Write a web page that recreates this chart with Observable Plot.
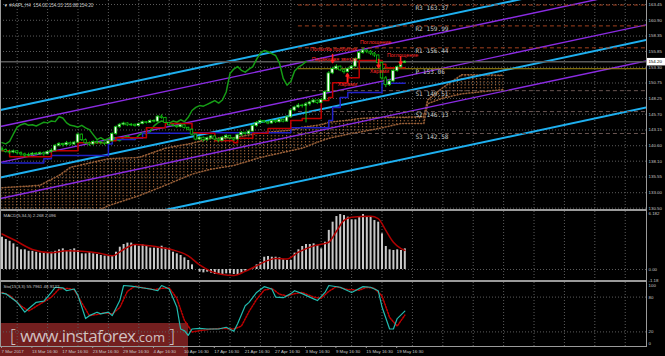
<!DOCTYPE html>
<html><head><meta charset="utf-8">
<script src="https://cdn.jsdelivr.net/npm/d3@7"></script>
<script src="https://cdn.jsdelivr.net/npm/@observablehq/plot@0.6"></script>
<style>
html,body{margin:0;padding:0;background:#000;}
#wrap{position:relative;width:665px;height:356px;overflow:hidden;background:#000;font-family:"Liberation Sans",Arial,sans-serif;}
.ln{position:absolute;background:#9a9a9a;}
#wm{position:absolute;left:0;top:323px;width:188px;height:33px;background:rgba(170,45,45,0.68);}
#wmt{position:absolute;left:10px;top:325px;line-height:20px;font-size:17px;color:rgba(225,225,225,0.85);font-family:"Open Sans",sans-serif;white-space:nowrap;}
</style></head>
<body><div id="wrap">
<div id="wm"></div>
<div id="wmt"><span style="font-size:18px;font-weight:300">[</span> <span style="letter-spacing:-0.6px">www.instaforex</span><span style="font-size:13px">.com</span> <span style="font-size:18px;font-weight:300">]</span></div>
</div>
<script>
// ---------- data ----------
const opens = [140.1,139.9,139.6,139.5,139.7,139.4,139.2,139.0,139.1,139.3,
139.2,139.4,139.2,139.6,139.8,140.6,140.9,140.7,141.0,140.8,
141.1,142.4,141.5,141.0,140.8,141.2,141.0,141.1,140.9,141.3,
142.5,143.6,144.0,144.2,143.9,144.0,143.8,144.1,144.4,144.3,
144.6,144.5,145.3,145.1,144.3,143.9,143.8,143.6,143.9,143.5,
143.2,142.4,141.6,141.9,141.5,141.8,142.1,141.6,141.4,141.9,
142.2,141.8,141.6,142.3,142.7,142.5,142.9,143.8,144.3,144.6,
144.4,144.2,144.6,144.4,144.8,144.5,145.2,146.3,146.8,147.1,
147.0,147.3,147.6,147.9,147.5,148.0,149.3,152.3,153.0,153.4,
152.8,152.5,153.0,153.4,154.6,155.6,156.0,155.8,155.5,155.2,
154.0,151.5,150.4,151.0,152.7,153.3,154.00];
const highs = [140.4,140.1,139.9,139.9,139.8,139.6,139.4,139.4,139.5,139.5,
139.6,139.6,139.8,140.1,140.8,141.1,141.0,141.3,141.2,141.3,
142.6,142.5,141.7,141.2,141.4,141.4,141.3,141.2,141.5,142.7,
143.8,144.2,144.4,144.3,144.2,144.1,144.3,144.6,144.5,144.8,
144.8,145.5,145.6,145.2,144.4,144.1,143.9,144.1,144.0,143.6,
143.3,142.5,142.1,142.0,142.0,142.3,142.2,141.8,142.1,142.4,
142.3,141.9,142.5,142.9,142.8,143.1,144.0,144.5,144.8,144.7,
144.5,144.8,144.7,145.0,144.9,145.4,146.5,147.0,147.4,147.3,
147.6,147.8,148.1,148.0,148.2,149.5,152.6,153.3,153.7,153.5,
153.0,153.2,153.6,154.8,155.9,156.4,156.2,156.0,155.7,155.3,
154.2,151.8,151.3,152.9,153.5,153.9,154.33];
const lows = [139.6,139.4,139.2,139.3,139.1,138.9,138.7,138.8,138.9,139.0,
139.0,138.9,139.1,139.4,139.7,140.4,140.4,140.5,140.6,140.6,
141.0,141.3,140.8,140.5,140.6,140.8,140.7,140.6,140.8,141.2,
142.3,143.4,143.8,143.7,143.7,143.6,143.7,144.0,144.1,144.2,
144.3,144.4,144.9,144.2,143.7,143.6,143.4,143.5,143.3,143.0,
142.2,141.4,141.4,141.2,141.3,141.6,141.4,141.1,141.3,141.7,
141.6,141.3,141.5,142.1,142.3,142.4,142.8,143.6,144.1,144.2,
144.0,144.1,144.2,144.3,144.3,144.4,145.1,146.1,146.6,146.7,
144.3,147.0,147.4,147.3,147.4,147.9,149.2,152.1,152.8,152.6,
152.2,152.4,152.9,153.3,154.5,155.4,155.5,155.2,154.9,153.8,
151.2,150.0,150.2,150.9,152.5,153.1,153.88];
const closes = [139.9,139.6,139.5,139.7,139.4,139.2,139.0,139.1,139.3,139.2,
139.4,139.2,139.6,139.8,140.6,140.9,140.7,141.0,140.8,141.1,
142.4,141.5,141.0,140.8,141.2,141.0,141.1,140.9,141.3,142.5,
143.6,144.0,144.2,143.9,144.0,143.8,144.1,144.4,144.3,144.6,
144.5,145.3,145.1,144.3,143.9,143.8,143.6,143.9,143.5,143.2,
142.4,141.6,141.9,141.5,141.8,142.1,141.6,141.4,141.9,142.2,
141.8,141.6,142.3,142.7,142.5,142.9,143.8,144.3,144.6,144.4,
144.2,144.6,144.4,144.8,144.5,145.2,146.3,146.8,147.1,147.0,
147.3,147.6,147.9,147.5,148.0,149.3,152.3,153.0,153.4,152.8,
152.5,153.0,153.4,154.6,155.6,156.0,155.8,155.5,155.2,154.0,
151.5,150.4,151.0,152.7,153.3,153.7,154.20];

const tenkanIdx = [0,2,13,20,28,30,38,43,50,52,56,61,62,66,70,76,79,84,86,87,91,94,100,101,106];
const tenkanVal = [139.8,138.8,139.8,141.1,141.4,141.9,143.5,144.2,142.7,142.6,141.4,141.1,141.8,142.6,143.4,144.7,145.0,147.9,148.4,150.8,151.6,154.4,153.8,153.2,153.2];
const kijunIdx = [0,11,13,28,29,35,37,51,76,86,87,89,91,100,106];
const kijunVal = [137.8,138.5,139.0,140.9,141.6,141.8,142.6,142.7,143.5,144.7,146.8,148.4,149.2,150.7,150.7];

const cloudIdx = [0,10,15,18,28,36,43,50,55,61,68,76,79,84,86,92,94,100,105,111,112,116,121,132];
const cloudTop = [133.8,134.2,135.8,137.1,138.5,138.7,140.2,141.0,141.8,141.9,142.7,143.1,143.6,144.0,144.4,144.8,145.0,145.2,145.2,145.3,148.0,150.0,152.1,152.0];
const cloudBot = [128,128,128,128,130.9,132.5,134.2,136.0,136.8,137.4,138.7,139.8,140.2,141.4,141.8,142.6,142.8,143.5,144.2,144.2,147.4,148.3,149.0,149.7];

const cyanStart = [146.38,135.46,124.53];
const cyanEnd   = [168.64,157.72,146.80];
const violetStart = [143.71,137.90,132.07];
const violetEnd   = [165.97,160.17,154.34];

const pivotNames = ["R3","R2","R1","P","S1","S2","S3"];
const pivotVals  = [163.37,159.99,156.44,153.06,149.51,146.13,142.58];
const pivotStartBar = 78;
const pivotLabelBar = 108.8;

const priceTicks = [130.50,133.00,135.55,138.10,140.60,143.15,145.70,148.25,150.75,153.30,155.85,158.35,160.90,163.45];
const priceNow = 154.20;

const annoText  = ["Поглощение","Попытка пробития","Падающая звезда","Поглощение","Харами","Харами"];
const annoIdx   = [98.3,87.2,87.5,105.4,99.3,90.9];
const annoPrice = [157.35,156.28,154.55,155.2,152.66,150.62];
const arrowIdx   = [87.0,90.9,99.1,104.9];
const arrowPrice = [154.7,151.6,153.9,154.4];
const arrowDir   = [-1,1,-1,-1];

const macdHist = [3.55,3.3,3.1,2.82,2.45,2.16,2.16,2.0,2.0,1.9,
1.8,1.85,1.85,1.9,2.0,2.16,2.27,2.0,2.16,2.27,
2.09,1.72,1.72,1.85,1.72,1.65,1.54,1.47,1.47,1.43,
1.9,2.45,2.75,2.9,2.9,2.64,2.56,2.7,2.56,2.35,
2.35,2.35,2.56,2.35,2.27,1.9,1.72,1.54,1.28,0.99,
0.51,0.0,-0.29,-0.37,-0.29,-0.4,-0.55,-0.55,-0.55,-0.48,
-0.48,-0.55,-0.66,-0.4,-0.18,-0.11,0.07,0.51,0.8,1.35,
1.43,1.35,1.35,1.28,1.06,0.99,0.99,1.8,2.16,2.53,
2.75,2.75,2.82,2.64,2.27,3.0,4.3,5.2,5.82,6.04,
5.93,5.75,5.46,5.46,5.82,6.04,5.82,5.75,5.38,5.2,
3.92,2.53,2.16,2.09,2.16,2.09,2.268];
const macdSigIdx = [0,3,8,13,17,21,26,29,32,35,39,42,45,49,52,55,58,61,64,67,70,72,75,78,82,86,88,90,92,97,99,101,103,105,106];
const macdSigVal = [3.9,3.3,2.2,1.85,2.05,2.0,1.75,1.5,2.2,2.75,2.6,2.4,2.15,1.5,0.5,-0.2,-0.55,-0.65,-0.2,0.4,1.0,1.2,1.15,1.9,2.6,3.0,4.2,5.4,5.75,5.85,5.6,4.3,3.0,2.3,2.096];
const macdTicks = [6.182,0,-1.18];
const macdTickText = ["6.182","0.00","-1.18"];

const stochIdx = [0,1,4,6,7,9,11,13,14,16,17,19,20,22,23,25,26,28,29,31,32,34,36,39,41,42,44,46,47,48,49,50,52,54,57,59,61,62,64,65,67,69,71,72,74,76,77,79,82,83,85,86,89,92,95,97,99,100,102,103,104,106];
const stochMain = [86.7,85.7,71,54,60,71,73,88,97,96,91,94,83,43,48,54,51,54,48,74,100,99,97,94,91,100,94,63,25,22,14,25,26,25,25,28,21,34,65,71,88,98,94,80,79,86,91,86,77,74,88,100,97,88,98,97,91,63,25,25,43,55.8];
const stochSigIdx = [0,2,5,7,9,11,13,15,17,19,21,23,25,27,29,31,33,35,37,40,42,44,46,48,50,52,55,58,61,63,65,67,69,71,73,75,77,79,82,84,86,88,91,94,96,98,100,102,104,106];
const stochSig = [88,83,65,56,64,72,80,94,95,93,70,48,50,53,51,62,90,99,96,93,95,96,78,40,20,22,25,26,25,30,55,76,92,95,85,82,86,88,80,78,90,98,93,92,97,95,82,45,30,48.9];
const stochTicks = [100,80,20,0];

const xLabels = ["7 Mar 2017","13 Mar 16:30","17 Mar 16:30","23 Mar 16:30","29 Mar 16:30","4 Apr 16:30","10 Apr 16:30","17 Apr 16:30","21 Apr 16:30","27 Apr 16:30","3 May 16:30","9 May 16:30","15 May 16:30","19 May 16:30"];

const titleText = "▼ #AAPL,H4  154.00 154.33 153.88 154.20";
const macdTitle = "MACD(5,34,5) 2.268 2.096";
const stochTitle = "Sto(15,3,3) 55.7961 48.9122";

// ---------- layout constants ----------
const W = 665, MR = 19;
const xDomain = [-0.395, 169.6];
const gridIdx = d3.range(4, 170, 8);
const labelIdx = d3.range(0, 8 * xLabels.length, 8);
const gridColor = "#5c5c5c";
const txt = "#c8c8c8";
const FONT = "Liberation Sans, Arial, sans-serif";
const FS = 4.4;

const wrap = document.getElementById("wrap");
function place(svg, top) {
  svg.style.position = "absolute"; svg.style.left = "0px"; svg.style.top = top + "px";
  wrap.appendChild(svg);
}
const baseStyle = {background: "transparent", color: txt, fontFamily: FONT, fontSize: FS + "px", overflow: "visible"};

// ---------- main panel ----------
const candles = closes.map((c, i) => ({i, o: opens[i], h: highs[i], l: lows[i], c}));
const cloud = cloudIdx.map((i, k) => ({i, top: cloudTop[k], bot: cloudBot[k]}));
const cyan = cyanStart.map((s, k) => ({s, e: cyanEnd[k]}));
const violet = violetStart.map((s, k) => ({s, e: violetEnd[k]}));
const pivots = pivotVals.map((v, k) => ({name: pivotNames[k], v}));
const tenkan = tenkanIdx.map((i, k) => ({i, v: tenkanVal[k]}));
const kijun = kijunIdx.map((i, k) => ({i, v: kijunVal[k]}));
const chikou = candles.filter(d => d.i >= 26);
const annos = annoText.map((t, k) => ({t, i: annoIdx[k], p: annoPrice[k]}));
const arrows = arrowDir.map((dir, k) => ({dir, i: arrowIdx[k], p: arrowPrice[k]}));

const mainPlot = Plot.plot({
  width: W, height: 210, marginLeft: 0, marginRight: MR, marginTop: 0, marginBottom: 0,
  style: baseStyle,
  x: {domain: xDomain, axis: null},
  y: {domain: [130.12, 164.10]},
  marks: [
    Plot.ruleY(priceTicks, {stroke: gridColor, strokeDasharray: "1,2"}),
    Plot.ruleX(gridIdx, {stroke: gridColor, strokeDasharray: "1,2"}),
    Plot.areaY(cloud, {x: "i", y1: "bot", y2: "top", fill: "url(#hatch)", clip: true}),
    Plot.line(cloud, {x: "i", y: "top", stroke: "#9a6038", strokeDasharray: "1,2", clip: true}),
    Plot.line(cloud, {x: "i", y: "bot", stroke: "#9a6038", strokeDasharray: "1,2", clip: true}),
    Plot.link(cyan, {x1: () => xDomain[0], x2: () => xDomain[1], y1: "s", y2: "e", stroke: "#1eb0f0", strokeWidth: 2, clip: true}),
    Plot.link(violet, {x1: () => xDomain[0], x2: () => xDomain[1], y1: "s", y2: "e", stroke: "#8a2be2", strokeWidth: 1.4, clip: true}),
    Plot.ruleY(pivots.filter(d => d.name[0] === "R"), {y: "v", x1: pivotStartBar, x2: xDomain[1], stroke: "#a3401e", strokeDasharray: "4,3"}),
    Plot.ruleY(pivots.filter(d => d.name[0] === "S"), {y: "v", x1: pivotStartBar, x2: xDomain[1], stroke: "#6a5652", strokeDasharray: "4,3"}),
    Plot.ruleY(pivots.filter(d => d.name === "P"), {y: "v", x1: pivotStartBar, x2: xDomain[1], stroke: "#a08a10"}),
    Plot.ruleY([priceNow], {stroke: "#5a5a5a", strokeWidth: 1.5}),
    Plot.line(chikou, {x: d => d.i - 26, y: "c", stroke: "#169c16", clip: true}),
    Plot.line(kijun, {x: "i", y: "v", curve: "step-after", stroke: "#2020c8"}),
    Plot.line(tenkan, {x: "i", y: "v", curve: "step-after", stroke: "#c00000"}),
    Plot.ruleX(candles, {x: "i", y1: "l", y2: "h", stroke: "#10c010"}),
    Plot.rect(candles, {x1: d => d.i - 0.33, x2: d => d.i + 0.33, y1: "o", y2: "c",
      fill: d => d.c >= d.o ? "#ffffff" : "#000000", stroke: "#10c010", strokeWidth: 0.8}),
    Plot.text(pivots, {x: pivotLabelBar, y: "v", text: d => `${d.name} ${d.v.toFixed(2)}`, dy: 3.3,
      textAnchor: "start", fill: txt, fontSize: 6.1, fontFamily: "DejaVu Sans Mono, monospace"}),
    Plot.arrow(arrows, {x: "i", y1: d => d.p - d.dir * 0.65, y2: d => d.p + d.dir * 0.65,
      stroke: "#ff2020", strokeWidth: 1.6, headLength: 4}),
    Plot.text(annos, {x: "i", y: "p", text: "t", fill: "#ff2a2a", fontSize: 5.4, fontFamily: FONT}),
    Plot.axisY({anchor: "right", ticks: priceTicks, tickSize: 0, tickPadding: 2, tickFormat: d => d.toFixed(2), fill: txt, fontSize: FS, label: null}),
    Plot.ruleY([priceNow], {x1: xDomain[1] + 0.15, x2: xDomain[1] + 5, stroke: "#ffffff", strokeWidth: 7.5}),
    Plot.text([priceNow], {x: xDomain[1] + 0.5, y: d => d, text: d => d.toFixed(2), textAnchor: "start", fill: "#000", fontSize: FS}),
    Plot.text([titleText], {frameAnchor: "top-left", dx: 3, dy: 3, fill: txt, fontSize: 4.6})
  ]
});
mainPlot.insertAdjacentHTML("afterbegin",
  '<defs><pattern id="hatch" patternUnits="userSpaceOnUse" x="0" y="0" width="3.8" height="3">' +
  '<rect x="1" y="0" width="1" height="1.4" fill="#a86a3a"/></pattern></defs>');
place(mainPlot, 0);

// ---------- MACD panel ----------
const macdSig = macdSigIdx.map((i, k) => ({i, v: macdSigVal[k]}));
const macdMap = new Map(macdTicks.map((t, k) => [t, macdTickText[k]]));
const macdPlot = Plot.plot({
  width: W, height: 69, marginLeft: 0, marginRight: MR, marginTop: 0, marginBottom: 0,
  style: baseStyle,
  x: {domain: xDomain, axis: null},
  y: {domain: [-1.209, 6.374]},
  marks: [
    Plot.ruleY([0], {stroke: gridColor, strokeDasharray: "1,2"}),
    Plot.ruleX(gridIdx, {stroke: gridColor, strokeDasharray: "1,2"}),
    Plot.ruleX(macdHist, {x: (d, i) => i, y1: 0, y2: d => d, stroke: "#c8c8c8", strokeWidth: 2}),
    Plot.line(macdSig, {x: "i", y: "v", curve: "monotone-x", stroke: "#b00000"}),
    Plot.axisY({anchor: "right", ticks: macdTicks, tickSize: 0, tickPadding: 2, tickFormat: d => macdMap.get(d), fill: txt, fontSize: FS, label: null}),
    Plot.text([macdTitle], {frameAnchor: "top-left", dx: 3, dy: 2, fill: txt, fontSize: FS})
  ]
});
place(macdPlot, 211);

// ---------- Stochastic panel ----------
const stM = stochIdx.map((i, k) => ({i, v: stochMain[k]}));
const stS = stochSigIdx.map((i, k) => ({i, v: stochSig[k]}));
const labelMap = new Map(labelIdx.map((t, k) => [t, xLabels[k]]));
const stochPlot = Plot.plot({
  width: W, height: 74, marginLeft: 0, marginRight: MR, marginTop: 0, marginBottom: 10,
  style: baseStyle,
  x: {domain: xDomain},
  y: {domain: [-5.17, 105.17]},
  marks: [
    Plot.ruleY([80, 20], {stroke: gridColor, strokeDasharray: "1,2"}),
    Plot.ruleX(gridIdx, {stroke: gridColor, strokeDasharray: "1,2"}),
    Plot.line(stS, {x: "i", y: "v", stroke: "#c00000", strokeDasharray: "1.5,1.5"}),
    Plot.line(stM, {x: "i", y: "v", stroke: "#22bcb0", strokeWidth: 1.2}),
    Plot.axisY({anchor: "right", ticks: stochTicks, tickSize: 0, tickPadding: 2, fill: txt, fontSize: FS, label: null}),
    Plot.axisX({ticks: labelIdx, tickFormat: d => labelMap.get(d), textAnchor: "start", tickSize: 2, tickPadding: 1.5,
      dx: -0.5, stroke: "#9a9a9a", fill: txt, fontSize: FS, label: null}),
    Plot.text([stochTitle], {frameAnchor: "top-left", dx: 3, dy: 2, fill: txt, fontSize: FS})
  ]
});
place(stochPlot, 282);

// frame lines
function ln(l, t, w, h) { const d = document.createElement("div"); d.className = "ln";
  Object.assign(d.style, {left: l + "px", top: t + "px", width: w + "px", height: h + "px"}); wrap.appendChild(d); }
ln(0, 209, 646, 2);
ln(0, 280, 646, 2);
ln(0, 346, 647, 1);
ln(646, 0, 1, 347);
ln(0, 0, 1, 347);
</script></body></html>
